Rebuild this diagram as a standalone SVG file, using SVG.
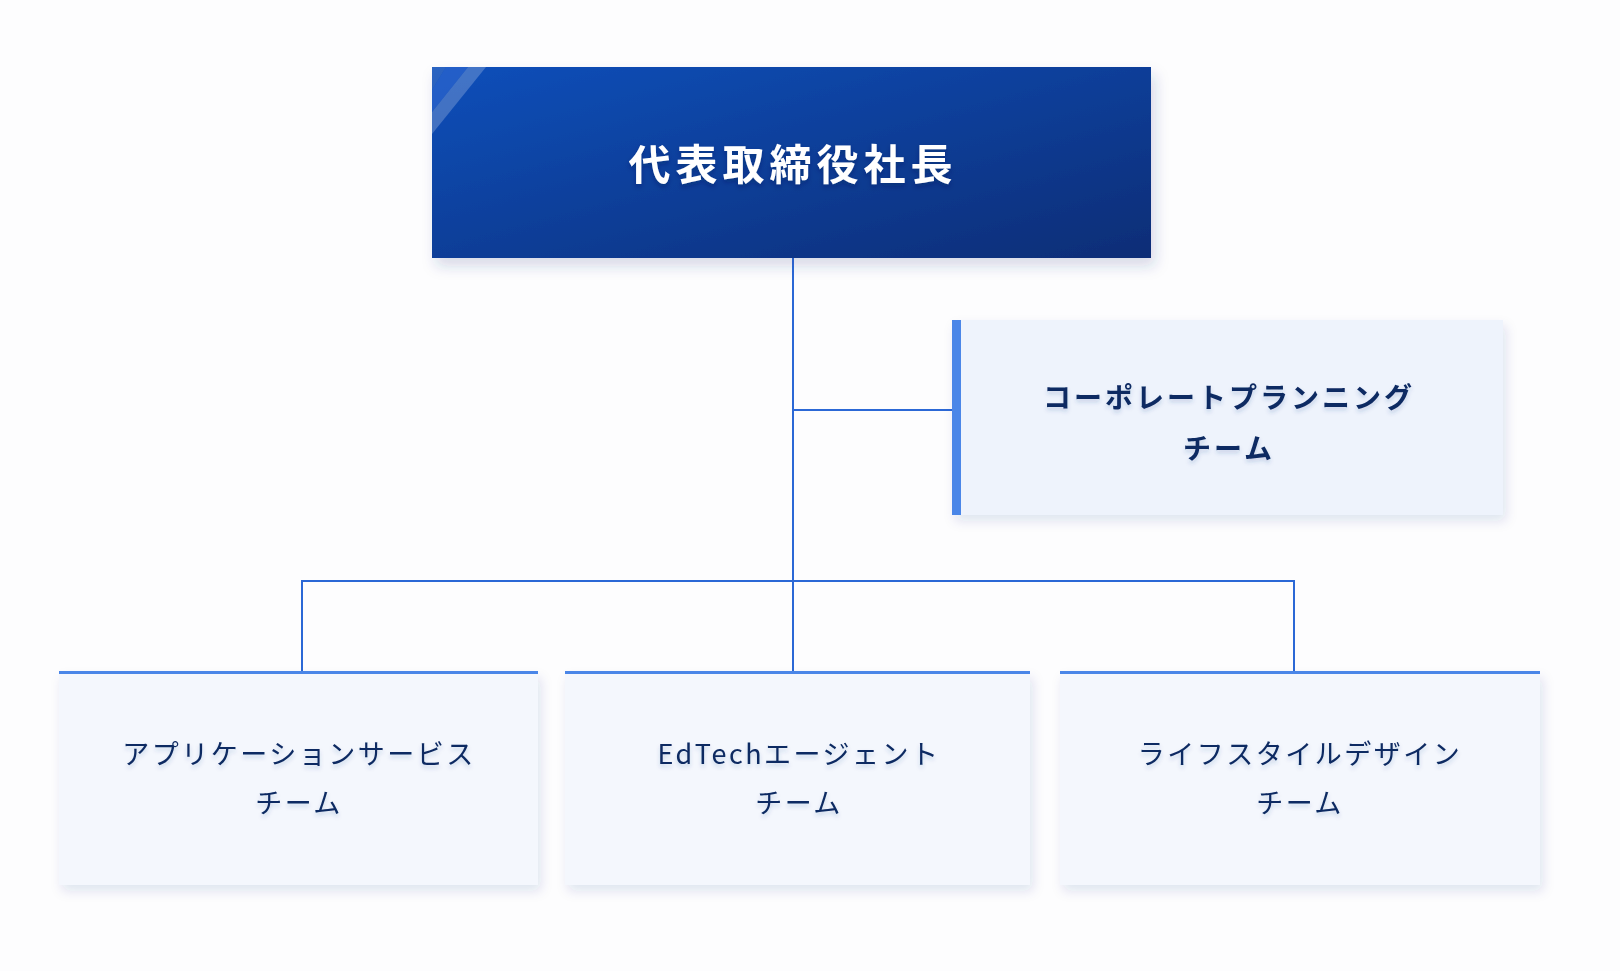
<svg xmlns="http://www.w3.org/2000/svg" width="1620" height="971" viewBox="0 0 1620 971">
<defs>
<linearGradient id="topg" x1="0" y1="0" x2="1" y2="1">
<stop offset="0" stop-color="#0c4fba"/>
<stop offset="1" stop-color="#082d76"/>
</linearGradient>
<filter id="sh" x="-10%" y="-10%" width="125%" height="130%">
<feDropShadow dx="4" dy="8" stdDeviation="7" flood-color="#1a3a80" flood-opacity="0.18"/>
</filter>
<filter id="shs" x="-10%" y="-10%" width="125%" height="130%">
<feDropShadow dx="3" dy="6" stdDeviation="6" flood-color="#1a3a80" flood-opacity="0.12"/>
</filter>
<filter id="ts" x="-10%" y="-30%" width="120%" height="160%">
<feDropShadow dx="0" dy="3" stdDeviation="2.5" flood-color="#0a1f50" flood-opacity="0.35"/>
</filter>
<filter id="tsl" x="-10%" y="-30%" width="120%" height="160%">
<feDropShadow dx="0" dy="3" stdDeviation="2" flood-color="#2a4a90" flood-opacity="0.2"/>
</filter>
</defs>
<style>
.conn{stroke:#2b68d6;stroke-width:2;fill:none}
.t{font-family:"Noto Sans CJK JP","Noto Sans",sans-serif;text-anchor:middle}
.top{fill:#ffffff;font-size:42px;font-weight:700;letter-spacing:5px}
.mid{fill:#0d2a62;font-size:28px;font-weight:700;letter-spacing:3px}
.bot{fill:#0d2a62;font-size:27px;font-weight:400;letter-spacing:2.5px}
.card{fill:#f4f7fd}
.accent{fill:#4a86e8}
</style>
<rect x="0" y="0" width="1620" height="971" fill="#fdfdfe"/>
<g id="connectors">
<line class="conn" x1="793" y1="258" x2="793" y2="672"/>
<line class="conn" x1="793" y1="410" x2="952" y2="410"/>
<polyline class="conn" points="302,672 302,581 1294,581 1294,672"/>
</g>
<g id="node-ceo">
<rect x="432" y="67" width="719" height="191" fill="url(#topg)" filter="url(#sh)"/>
<polygon points="432,67 446,67 432,90" fill="#ffffff" opacity="0.12"/>
<polygon points="468,67 486,67 432,134 432,112" fill="#ffffff" opacity="0.22"/>
<polygon points="446,67 468,67 432,112 432,90" fill="#3a6fd8" opacity="0.5"/>
<text class="t top" x="793" y="180" filter="url(#ts)">代表取締役社長</text>
</g>
<g id="node-corporate">
<rect x="952" y="320" width="551" height="195" fill="#eef3fc" filter="url(#shs)"/>
<rect class="accent" x="952" y="320" width="9" height="195"/>
<text class="t mid" x="1229" y="408" filter="url(#tsl)">コーポレートプランニング</text>
<text class="t mid" x="1229" y="459" filter="url(#tsl)">チーム</text>
</g>
<g id="node-app">
<rect class="card" x="59" y="672" width="479" height="213" filter="url(#shs)"/>
<rect class="accent" x="59" y="671" width="479" height="3"/>
<text class="t bot" x="299" y="764" filter="url(#tsl)">アプリケーションサービス</text>
<text class="t bot" x="299" y="813" filter="url(#tsl)">チーム</text>
</g>
<g id="node-edtech">
<rect class="card" x="565" y="672" width="465" height="213" filter="url(#shs)"/>
<rect class="accent" x="565" y="671" width="465" height="3"/>
<text class="t bot" x="799" y="764" filter="url(#tsl)">EdTechエージェント</text>
<text class="t bot" x="799" y="813" filter="url(#tsl)">チーム</text>
</g>
<g id="node-lifestyle">
<rect class="card" x="1060" y="672" width="480" height="213" filter="url(#shs)"/>
<rect class="accent" x="1060" y="671" width="480" height="3"/>
<text class="t bot" x="1300" y="764" filter="url(#tsl)">ライフスタイルデザイン</text>
<text class="t bot" x="1300" y="813" filter="url(#tsl)">チーム</text>
</g>
</svg>
